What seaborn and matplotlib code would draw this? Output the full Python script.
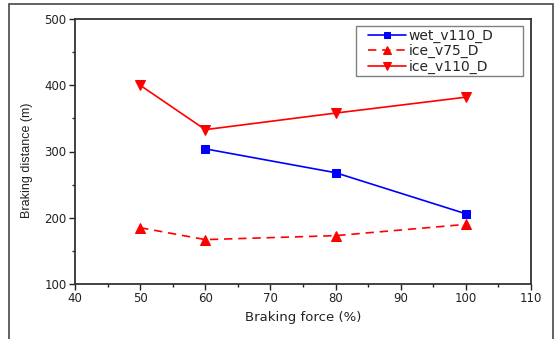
import matplotlib
matplotlib.use("Agg")
import matplotlib.pyplot as plt
import seaborn as sns
import pandas as pd
from matplotlib.patches import Rectangle
from matplotlib.ticker import MultipleLocator

wet_x = [60, 80, 100]
wet_y = [304, 268, 206]
ice75_x = [50, 60, 80, 100]
ice75_y = [185, 167, 173, 190]
ice110_x = [50, 60, 80, 100]
ice110_y = [400, 333, 358, 382]
series_names = ["wet_v110_D", "ice_v75_D", "ice_v110_D"]

sns.set_style("ticks")
plt.rcParams['font.family'] = ['DejaVu Sans']

W, H = 555, 339
fig = plt.figure(figsize=(W / 100, H / 100), dpi=100)
L, R, T, B = 75, 531, 19, 284
ax = fig.add_axes([L / W, 1 - B / H, (R - L) / W, (B - T) / H])

styles = [
    (wet_x, wet_y, "#0000FF", "-", "s", 6),
    (ice75_x, ice75_y, "#FF0000", (0, (5, 3.5)), "^", 7),
    (ice110_x, ice110_y, "#FF0000", "-", "v", 7),
]
for name, (xs, ys, c, ls, m, ms) in zip(series_names, styles):
    df = pd.DataFrame({"x": xs, "y": ys})
    sns.lineplot(data=df, x="x", y="y", ax=ax, color=c, linestyle=ls,
                 marker=m, markersize=ms, markeredgecolor=c, linewidth=1.2,
                 label=name)

ax.set_xlim(40, 110)
ax.set_ylim(100, 500)
ax.xaxis.set_major_locator(MultipleLocator(10))
ax.xaxis.set_minor_locator(MultipleLocator(5))
ax.yaxis.set_major_locator(MultipleLocator(100))
ax.yaxis.set_minor_locator(MultipleLocator(50))
ax.tick_params(which="major", direction="out", length=4, width=1, labelsize=8.5, pad=2,
               color="#222222", labelcolor="#222222")
ax.tick_params(which="minor", direction="out", length=2.5, width=1, color="#222222")
for s in ax.spines.values():
    s.set_linewidth(1.3)
    s.set_color("#333333")
ax.set_xlabel("Braking force (%)", fontsize=9.5, labelpad=4, color="#222222")
ax.set_ylabel("Braking distance (m)", fontsize=9, color="#222222",
              family="Liberation Sans")
ax.yaxis.set_label_coords((33 - L) / (R - L), (B - 160) / (B - T))

def px2ax(px, py):
    return ((px - L) / (R - L), (B - py) / (B - T))

leg = ax.legend(loc="upper left", bbox_to_anchor=px2ax(368, 29), fontsize=10,
                frameon=False, handlelength=2.75, handletextpad=0.15,
                borderpad=0, labelspacing=0.08, borderaxespad=0, markerscale=0.75)

x0, y0 = px2ax(356, 76)
x1, y1 = px2ax(523, 26)
ax.add_patch(Rectangle((x0, y0), x1 - x0, y1 - y0, transform=ax.transAxes,
                       fill=False, edgecolor="#808080", linewidth=1.0, zorder=5))

fig.patches.append(Rectangle((9 / W, -0.05), (553 - 9) / W, 1.05 - 4 / H,
                             transform=fig.transFigure, fill=False,
                             edgecolor="#555555", linewidth=1.3, clip_on=False))

fig.savefig("out.png", dpi=100)
